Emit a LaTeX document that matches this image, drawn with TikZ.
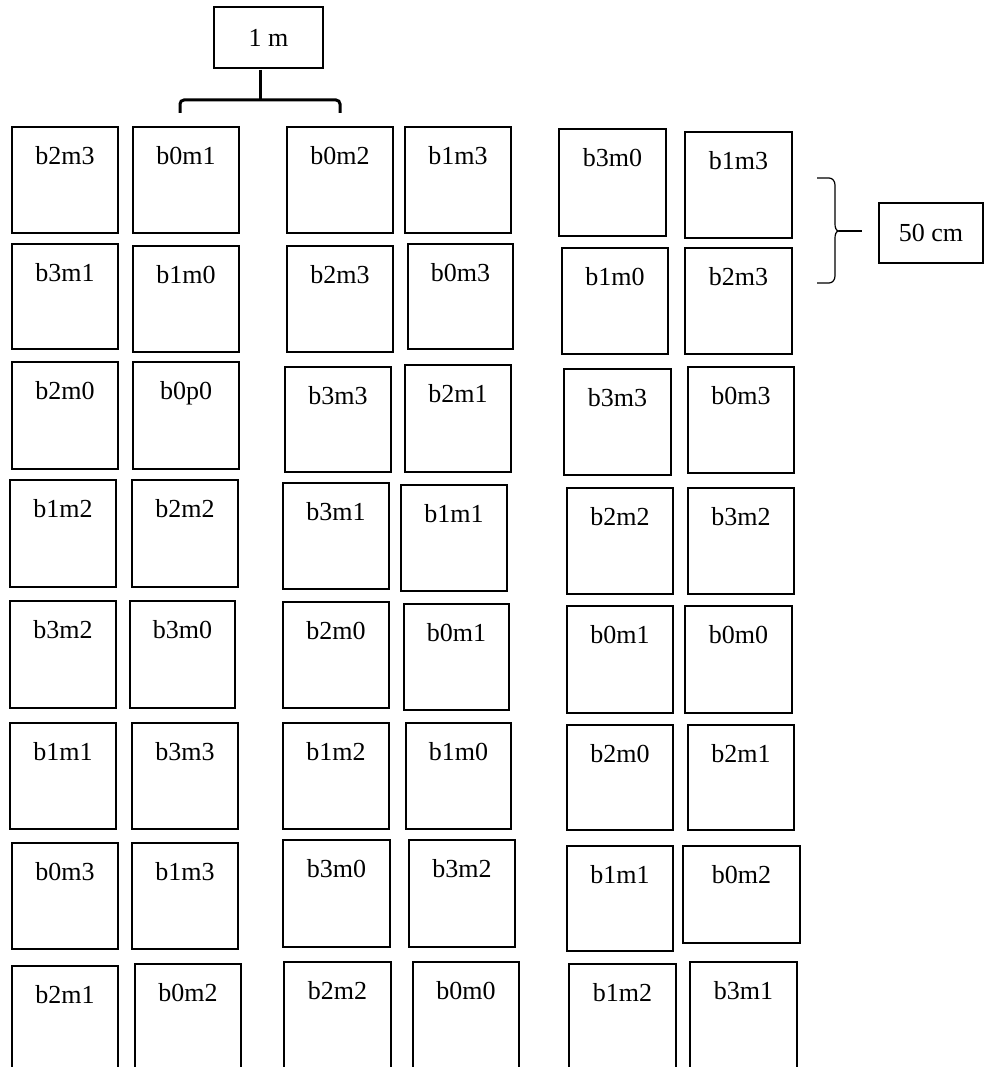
\documentclass[tikz,border=0pt]{standalone}
\usepackage{fontspec}
\setmainfont{Liberation Serif}
\newcommand\cellbox[6]{%
  \pgfmathsetmacro\cbw{#4-#2}%
  \pgfmathsetmacro\cbd{#5-#3-37}%
  \pgfmathsetmacro\cbx{(#2+#4)/2}%
  \node[cell, minimum width=\cbw pt, text depth=\cbd pt] (#1) at (\cbx,#3) {#6};}
\begin{document}
\begin{tikzpicture}[x=1pt,y=-1pt,
  cell/.style={draw, line width=2.2pt, inner sep=0pt, anchor=north, text height=37pt,
    font=\fontsize{26}{30}\selectfont},
  tagbox/.style={draw, line width=2.2pt, inner sep=0pt, font=\fontsize{26}{30}\selectfont},
  bracethick/.style={line width=3pt, rounded corners=4pt},
  bracethin/.style={line width=1.2pt}]
\useasboundingbox (0,0) rectangle (984,1067);
\clip (0,0) rectangle (984,1067);

% column 1
\cellbox{a1}{12}{126}{118}{232}{b2m3}
\cellbox{a2}{12}{243}{118}{348}{b3m1}
\cellbox{a3}{12}{361}{118}{468}{b2m0}
\cellbox{a4}{10}{479}{116}{586}{b1m2}
\cellbox{a5}{10}{600}{116}{707}{b3m2}
\cellbox{a6}{10}{722}{116}{828}{b1m1}
\cellbox{a7}{12}{842}{118}{948}{b0m3}
\cellbox{a8}{12}{965}{118}{1075}{b2m1}
% column 2
\cellbox{b1}{133}{126}{239}{232}{b0m1}
\cellbox{b2}{133}{245}{239}{351}{b1m0}
\cellbox{b3}{133}{361}{239}{468}{b0p0}
\cellbox{b4}{132}{479}{238}{586}{b2m2}
\cellbox{b5}{130}{600}{235}{707}{b3m0}
\cellbox{b6}{132}{722}{238}{828}{b3m3}
\cellbox{b7}{132}{842}{238}{948}{b1m3}
\cellbox{b8}{135}{963}{241}{1075}{b0m2}
% column 3
\cellbox{c1}{287}{126}{393}{232}{b0m2}
\cellbox{c2}{287}{245}{393}{351}{b2m3}
\cellbox{c3}{285}{366}{391}{471}{b3m3}
\cellbox{c4}{283}{482}{389}{588}{b3m1}
\cellbox{c5}{283}{601}{389}{707}{b2m0}
\cellbox{c6}{283}{722}{389}{828}{b1m2}
\cellbox{c7}{283}{839}{390}{946}{b3m0}
\cellbox{c8}{284}{961}{391}{1075}{b2m2}
% column 4
\cellbox{d1}{405}{126}{511}{232}{b1m3}
\cellbox{d2}{408}{243}{513}{348}{b0m3}
\cellbox{d3}{405}{364}{511}{471}{b2m1}
\cellbox{d4}{401}{484}{507}{590}{b1m1}
\cellbox{d5}{404}{603}{509}{709}{b0m1}
\cellbox{d6}{406}{722}{511}{828}{b1m0}
\cellbox{d7}{409}{839}{515}{946}{b3m2}
\cellbox{d8}{413}{961}{519}{1075}{b0m0}
% column 5
\cellbox{e1}{559}{128}{666}{235}{b3m0}
\cellbox{e2}{562}{247}{668}{353}{b1m0}
\cellbox{e3}{564}{368}{671}{474}{b3m3}
\cellbox{e4}{567}{487}{673}{593}{b2m2}
\cellbox{e5}{567}{605}{673}{712}{b0m1}
\cellbox{e6}{567}{724}{673}{829}{b2m0}
\cellbox{e7}{567}{845}{673}{950}{b1m1}
\cellbox{e8}{569}{963}{676}{1075}{b1m2}
% column 6
\cellbox{f1}{685}{131}{792}{237}{b1m3}
\cellbox{f2}{685}{247}{792}{353}{b2m3}
\cellbox{f3}{688}{366}{794}{472}{b0m3}
\cellbox{f4}{688}{487}{794}{593}{b3m2}
\cellbox{f5}{685}{605}{792}{712}{b0m0}
\cellbox{f6}{688}{724}{794}{829}{b2m1}
\cellbox{f7}{683}{845}{800}{942}{b0m2}
\cellbox{f8}{690}{961}{797}{1075}{b3m1}

% 1 m label and brace
\node[tagbox, minimum width=109pt, minimum height=61pt] (onem) at (268.5,37.5) {1 m};
\coordinate (btop) at (260,70);
\coordinate (bmid) at (260,100);
\coordinate (bl) at (180,113);
\coordinate (br) at (340,113);
\draw[bracethick] (bl) -- (180,100) -- (340,100) -- (br);
\draw[line width=3pt] (btop) -- (bmid);

% 50 cm label and brace
\node[tagbox, minimum width=104pt, minimum height=60pt] (fifty) at (931,233) {50 cm};
\coordinate (rt) at (817,178);
\coordinate (rb) at (817,283);
\coordinate (rtip) at (839,231);
\coordinate (rend) at (862,231);
\draw[bracethin] (rt) -- (829,178) to[out=0,in=90] (835,185) -- (835,224)
  to[out=-90,in=180] (rtip) to[out=180,in=90] (835,238) -- (835,276)
  to[out=-90,in=0] (829,283) -- (rb);
\draw[bracethin] (rtip) -- (rend);
\end{tikzpicture}
\end{document}
